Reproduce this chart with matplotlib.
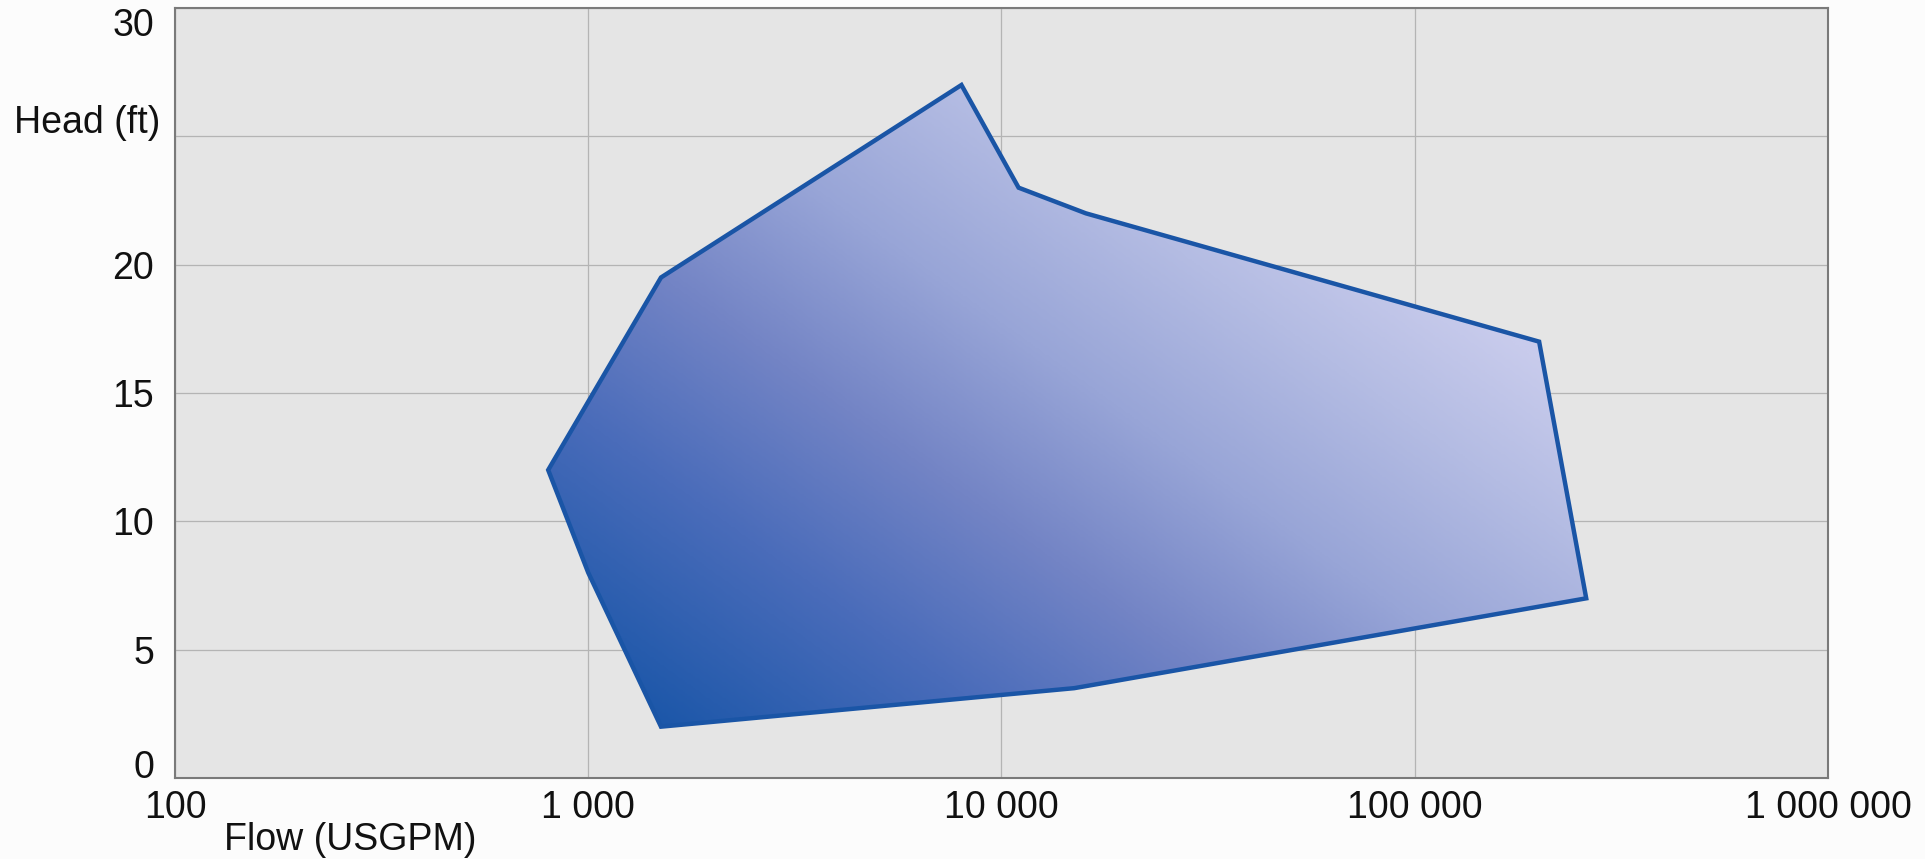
import numpy as np
import matplotlib.pyplot as plt
from matplotlib.patches import Polygon
from matplotlib.colors import LinearSegmentedColormap

# operating range envelope (flow in USGPM, head in ft)
flow = [1500, 15000, 260000, 200000, 16000, 11000, 8000, 1500, 800, 1000]
head = [2, 3.5, 7, 17, 22, 23, 27, 19.5, 12, 8]

x_ticks = [100, 1000, 10000, 100000, 1000000]
x_labels = ['100', '1 000', '10 000', '100 000', '1 000 000']
y_ticks = [0, 5, 10, 15, 20, 25, 30]
y_labels = ['0', '5', '10', '15', '20', '', '30']

plt.rcParams['font.family'] = ['Liberation Sans', 'DejaVu Sans']
fs = 27

fig = plt.figure(figsize=(19.25, 8.59), dpi=100, facecolor='#fcfcfc')
ax = fig.add_axes([0.0909, 0.0943, 0.8587, 0.8964])
ax.set_facecolor('#e5e5e5')
ax.set_xscale('log')
ax.set_xlim(100, 1000000)
ax.set_ylim(0, 30)

ax.set_xticks(x_ticks)
ax.set_xticklabels(x_labels)
ax.set_yticks(y_ticks)
ax.set_yticklabels(y_labels)
ax.minorticks_off()
ax.tick_params(length=0, labelsize=fs, pad=15, colors='#111111')
ax.tick_params(axis='x', pad=9)
ax.grid(True, color='#b4b4b4', linewidth=0.9)
ax.set_axisbelow(True)
for s in ax.spines.values():
    s.set_color('#7a7a7a')
    s.set_linewidth(1.5)

# keep the end labels inside the frame
ylabs = ax.get_yticklabels()
ylabs[0].set_va('baseline')
ylabs[-1].set_va('top')

ax.text(-15 / 1653, 25.5 / 30, 'Head (ft)', transform=ax.transAxes,
        ha='right', va='center', fontsize=fs, color='#111111')
fig.text(350 / 1925, 1 - 840 / 859, 'Flow (USGPM)', ha='center', va='center',
         fontsize=fs, color='#111111')

pts = np.column_stack([flow, head])
poly = Polygon(pts, closed=True, facecolor='none', edgecolor='#1a55a6',
               linewidth=3.2, joinstyle='miter', zorder=3)
ax.add_patch(poly)

# diagonal gradient fill, darkest at the lower-left corner of the envelope
cmap = LinearSegmentedColormap.from_list('env', [
    (0.0, '#1c57a9'), (0.25, '#4a6cba'), (0.45, '#7384c5'),
    (0.65, '#98a5d7'), (0.85, '#b4bce3'), (1.0, '#c8cbec')])
u0, v0 = ax.transAxes.inverted().transform(ax.transData.transform((flow[0], head[0])))
u = np.linspace(0, 1, 800)
v = np.linspace(0, 1, 400)
U, V = np.meshgrid(u, v)
t = 0.00072 * (U - u0) * 1653 + 0.001 * (V - v0) * 770
t = np.clip(t, 0, 1)
im = ax.imshow(t, cmap=cmap, vmin=0, vmax=1, origin='lower', extent=(0, 1, 0, 1),
               transform=ax.transAxes, aspect='auto', interpolation='bilinear', zorder=2)
clip = Polygon(pts, closed=True, transform=ax.transData)
im.set_clip_path(clip)

fig.savefig('out.png', dpi=100, facecolor=fig.get_facecolor())
